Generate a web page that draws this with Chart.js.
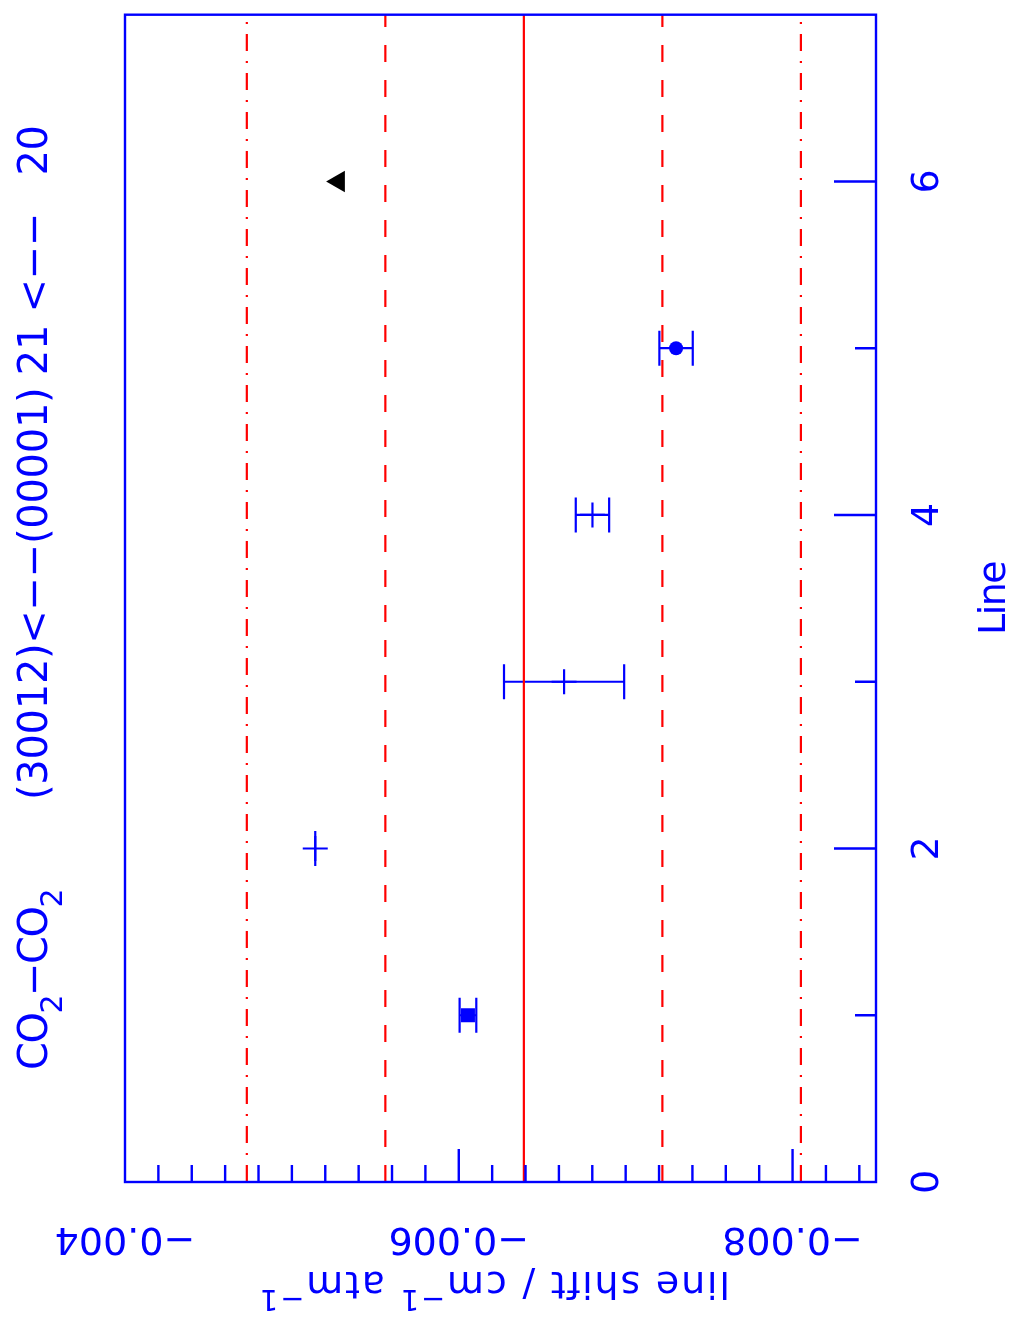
<!DOCTYPE html>
<html>
<head>
  <meta charset="UTF-8">
  <title>CO2-CO2 line shift</title>
  <script src="https://cdn.jsdelivr.net/npm/chart.js"></script>
  <style>
    body {
      margin: 0;
      padding: 0;
      background: #fff;
    }
    #chart-container {
      width: 1013px;
      height: 1320px;
    }
  </style>
</head>
<body>
  <div id="chart-container">
    <canvas id="myChart" width="1013" height="1320"></canvas>
  </div>
  <script>
    // values
    const lineNumbers = [1, 2, 3, 4, 5, 6];
    const shifts = [-0.006055, -0.00514, -0.006631, -0.006801, -0.007302, -0.00528];
    const shiftErrors = [0.00005, 0, 0.00036, 0.0001, 0.0001, null];
    const markers = ['rect', 'cross', 'cross', 'cross', 'circle', 'triangle'];
    const meanShift = -0.00639;
    const sigmaShift = 0.00083;

    const shiftLabelValues = [-0.004, -0.006, -0.008];
    const shiftLabels = ['\u22120.004', '\u22120.006', '\u22120.008'];
    const lineLabelValues = [0, 2, 4, 6];
    const lineLabels = ['0', '2', '4', '6'];

    const BLUE = '#0000ff';
    const RED = '#ff0000';
    const FONT = '"DejaVu Sans", sans-serif';

    function drawParts(ctx, x, y, angle, parts, align, spacing) {
      ctx.save();
      ctx.translate(x, y);
      ctx.rotate(angle);
      ctx.textBaseline = 'alphabetic';
      ctx.textAlign = 'left';
      ctx.fillStyle = BLUE;
      ctx.letterSpacing = (spacing || 0) + 'px';
      let total = 0;
      parts.forEach(p => {
        ctx.font = `${p.size}px ${FONT}`;
        p.w = ctx.measureText(p.t).width;
        total += p.w;
      });
      let cx = align === 'center' ? -total / 2 : 0;
      parts.forEach(p => {
        ctx.font = `${p.size}px ${FONT}`;
        ctx.fillText(p.t, cx, p.dy || 0);
        cx += p.w;
      });
      ctx.restore();
    }

    const errorBars = {
      id: 'errorBars',
      beforeDatasetsDraw(chart) {
        const { ctx, scales: { x, y } } = chart;
        ctx.save();
        ctx.strokeStyle = BLUE;
        ctx.lineWidth = 2.2;
        lineNumbers.forEach((ln, i) => {
          const e = shiftErrors[i];
          if (e === null) return;
          const py = y.getPixelForValue(ln);
          const x1 = x.getPixelForValue(shifts[i] - e);
          const x2 = x.getPixelForValue(shifts[i] + e);
          ctx.beginPath();
          ctx.moveTo(x1, py); ctx.lineTo(x2, py);
          ctx.moveTo(x1, py - 17.5); ctx.lineTo(x1, py + 17.5);
          ctx.moveTo(x2, py - 17.5); ctx.lineTo(x2, py + 17.5);
          ctx.stroke();
        });
        ctx.restore();
      }
    };

    const frameAndText = {
      id: 'frameAndText',
      afterDraw(chart) {
        const { ctx, chartArea: a, scales: { x, y } } = chart;
        ctx.save();
        ctx.strokeStyle = BLUE;
        ctx.lineWidth = 2.4;
        ctx.strokeRect(a.left, a.top, a.right - a.left, a.bottom - a.top);

        // shift ticks along the bottom edge
        ctx.beginPath();
        for (let k = 21; k <= 42; k++) {
          const px = x.getPixelForValue(-k * 0.0002);
          const len = k % 10 === 0 ? 33 : 17;
          ctx.moveTo(px, a.bottom);
          ctx.lineTo(px, a.bottom - len);
        }
        // line ticks along the right edge
        for (let n = 1; n <= 6; n++) {
          const py = y.getPixelForValue(n);
          const len = n % 2 === 0 ? 42 : 21;
          ctx.moveTo(a.right, py);
          ctx.lineTo(a.right - len, py);
        }
        ctx.stroke();
        ctx.restore();

        shiftLabelValues.forEach((v, i) => {
          drawParts(ctx, x.getPixelForValue(v), 1228, Math.PI, [{ t: shiftLabels[i], size: 38 }], 'center');
        });
        lineLabelValues.forEach((v, i) => {
          drawParts(ctx, 938, y.getPixelForValue(v), -Math.PI / 2, [{ t: lineLabels[i], size: 38 }], 'center');
        });

        drawParts(ctx, 1005, (a.top + a.bottom) / 2, -Math.PI / 2, [{ t: 'Line', size: 38 }], 'center', -1.5);

        drawParts(ctx, 494, 1272, Math.PI, [
          { t: 'line shift / cm', size: 38 },
          { t: '\u22121', size: 29, dy: -18 },
          { t: ' atm', size: 38 },
          { t: '\u22121', size: 29, dy: -18 }
        ], 'center', 1.8);

        drawParts(ctx, 47, 1070, -Math.PI / 2, [
          { t: 'CO', size: 40 },
          { t: '2', size: 30, dy: 15 },
          { t: '\u2212CO', size: 40 },
          { t: '2', size: 30, dy: 15 }
        ], 'left', -1.5);
        drawParts(ctx, 47, 800, -Math.PI / 2, [
          { t: '(30012)<\u2212\u2212(00001) 21 <\u2212\u2212   20', size: 40 }
        ], 'left', -0.3);
      }
    };

    const refLine = (value, dash) => ({
      type: 'line',
      data: [{ x: value, y: 0 }, { x: value, y: 7 }],
      borderColor: RED,
      borderWidth: 2.2,
      borderDash: dash,
      pointRadius: 0,
      fill: false
    });

    const ctx = document.getElementById('myChart').getContext('2d');
    window.myChart = new Chart(ctx, {
      type: 'scatter',
      data: {
        datasets: [
          {
            label: 'line shift',
            data: lineNumbers.map((ln, i) => ({ x: shifts[i], y: ln })),
            pointStyle: markers,
            pointRadius: [9.9, 12.5, 12.5, 12.5, 7, 12.5],
            pointRotation: [0, 0, 0, 0, 0, -90],
            backgroundColor: [BLUE, BLUE, BLUE, BLUE, BLUE, '#000'],
            borderColor: [BLUE, BLUE, BLUE, BLUE, BLUE, '#000'],
            borderWidth: [0, 2.2, 2.2, 2.2, 0, 0]
          },
          refLine(meanShift, []),
          refLine(meanShift + sigmaShift, [17, 18]),
          refLine(meanShift - sigmaShift, [17, 18]),
          refLine(meanShift + 2 * sigmaShift, [17, 10, 2, 10]),
          refLine(meanShift - 2 * sigmaShift, [17, 10, 2, 10])
        ]
      },
      options: {
        responsive: false,
        animation: false,
        layout: { padding: { left: 125, right: 137, top: 14, bottom: 138 } },
        plugins: {
          legend: { display: false },
          tooltip: { enabled: false }
        },
        scales: {
          x: { type: 'linear', min: -0.0085, max: -0.004, reverse: true, display: false },
          y: { type: 'linear', min: 0, max: 7, display: false }
        }
      },
      plugins: [errorBars, frameAndText]
    });
  </script>
</body>
</html>
